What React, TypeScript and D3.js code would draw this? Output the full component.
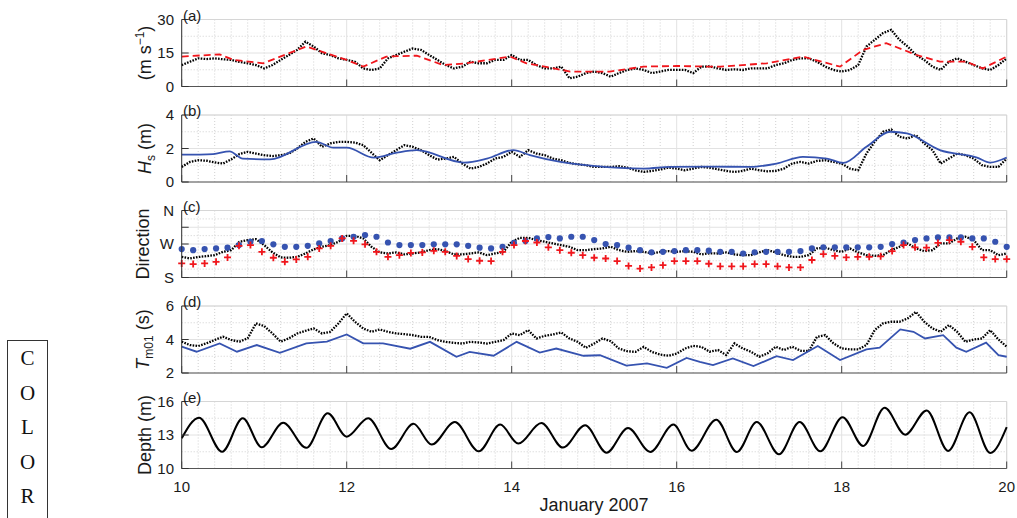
import React from 'react';
import * as d3 from 'd3';

// ---------- DATA ----------
const sampleDays = d3.range(101).map((i) => 10 + i / 10);

const windObs = [
  9.6, 11.1, 12.6, 12.3, 12.6, 12.2, 11.9, 11.0, 10.4, 9.6,
  8.1, 9.6, 11.9, 14.1, 16.4, 20.1, 17.9, 14.9, 14.1, 12.6,
  11.9, 11.1, 8.1, 7.4, 8.1, 12.6, 14.1, 15.6, 17.0, 16.4,
  14.1, 11.9, 9.6, 8.1, 8.9, 11.1, 10.4, 10.4, 11.9, 11.9,
  14.1, 11.9, 11.9, 9.6, 8.1, 8.1, 8.9, 3.7, 4.4, 6.0,
  6.7, 6.0, 4.4, 6.0, 7.4, 8.1, 7.4, 6.0, 6.7, 7.4,
  7.4, 7.4, 6.0, 8.9, 9.0, 8.1, 7.4, 7.7, 7.4, 8.1,
  8.1, 8.1, 9.6, 10.4, 11.9, 12.6, 12.6, 11.1, 8.9, 7.4,
  6.7, 7.4, 9.6, 17.9, 20.9, 23.9, 25.4, 20.9, 17.9, 14.1,
  11.9, 8.9, 7.4, 11.1, 12.6, 11.1, 9.6, 8.1, 7.4, 9.6,
  12.6,
];
const windModelDays = [10.0, 10.46, 10.63, 10.99, 11.51, 12.0, 12.2, 12.48, 12.85, 13.17, 13.45, 13.98, 14.18, 14.71, 15.19, 15.6, 16.0, 16.4, 16.53, 17.09, 17.53, 17.98, 18.26, 18.54, 18.91, 19.19, 19.51, 19.71, 20.0];
const windModelVals = [13.4, 14.4, 11.9, 10.4, 17.9, 11.9, 8.9, 13.4, 13.8, 9.6, 10.4, 13.4, 10.4, 6.7, 6.7, 8.9, 9.2, 8.9, 8.9, 10.4, 13.4, 8.9, 16.4, 19.4, 14.1, 11.1, 11.1, 8.1, 13.4];

const hsObs = [
  0.9, 1.2, 1.3, 1.27, 1.17, 1.1, 1.35, 1.67, 1.8, 1.7,
  1.6, 1.55, 1.6, 1.7, 2.0, 2.4, 2.6, 2.1, 2.3, 2.4,
  2.4, 2.35, 2.2, 1.75, 1.3, 1.6, 1.9, 2.2, 2.1, 1.9,
  1.6, 1.34, 1.4, 1.5, 1.1, 0.8, 0.9, 1.1, 1.4, 1.5,
  1.8, 1.5, 1.9, 1.7, 1.6, 1.4, 1.3, 1.14, 1.06, 1.0,
  0.9, 0.9, 0.9, 0.94, 0.86, 0.7, 0.6, 0.66, 0.74, 0.86,
  0.8, 0.7, 0.8, 0.9, 0.85, 0.76, 0.66, 0.6, 0.66, 0.8,
  0.7, 0.64, 0.66, 0.8, 1.1, 1.2, 1.1, 1.26, 1.3, 1.2,
  1.1, 0.8, 0.7, 1.7, 2.4, 3.0, 3.14, 2.7, 2.6, 2.8,
  2.3, 1.9, 1.1, 1.4, 1.7, 1.6, 1.4, 1.0, 0.9, 0.9,
  1.4,
];
const hsModelDays = [10.0, 10.38, 10.58, 10.74, 11.07, 11.63, 11.84, 12.0, 12.33, 12.61, 12.85, 13.42, 13.7, 14.02, 14.22, 14.59, 14.99, 15.6, 15.92, 16.4, 16.89, 17.21, 17.53, 17.82, 18.02, 18.3, 18.59, 18.79, 19.19, 19.64, 19.8, 20.0];
const hsModelVals = [1.63, 1.67, 1.83, 1.4, 1.35, 2.4, 2.05, 2.05, 1.45, 1.75, 1.9, 1.16, 1.4, 1.9, 1.6, 1.2, 0.96, 0.8, 0.9, 0.92, 0.9, 1.1, 1.5, 1.4, 1.14, 2.1, 3.0, 2.9, 1.9, 1.46, 1.16, 1.46];

const dirObs = [
  235.5, 231, 235, 237.5, 240, 249, 253.5, 276, 280.5, 283,
  267, 247.5, 234, 233, 235.5, 244.5, 255.5, 262.5, 267, 276,
  292, 292, 285, 262.5, 247.5, 244.5, 247.5, 242, 244.5, 247.5,
  253.5, 256.3, 251, 242, 242, 244.5, 247.5, 240, 244.5, 249,
  276, 286.7, 286.7, 280.5, 276, 271.5, 267, 262.5, 253.5, 253.5,
  256.3, 258, 262.5, 253.5, 249, 251, 249, 244.5, 249, 251,
  249, 251, 249, 242, 245, 244.5, 247.5, 242, 240, 240,
  247.5, 253.5, 247.5, 240, 235.5, 235.5, 240, 258, 260, 253.5,
  249, 258, 247.5, 240, 238.2, 240, 253.5, 262.5, 271.5, 258,
  251, 253.5, 271.5, 271.5, 285, 289.5, 280.5, 253.5, 253.5, 240,
  244.5,
];
const dirModelTimes = d3.range(73).map((i) => 10 + (i * 10) / 72);
const dirModelA = [
  256.3, 253.5, 256.3, 258, 260, 267, 276, 278, 269, 262.5,
  262.5, 265, 271.5, 278, 285, 289.5, 294, 289.5, 274, 267,
  267, 267, 269, 269, 269, 265, 260, 258, 262.5, 273,
  278, 285, 288.5, 285, 289.5, 289.5, 280.5, 270, 267, 260,
  253.5, 247.5, 249, 251, 253.5, 253.5, 252, 249, 249, 244.5,
  247.5, 249, 249, 249, 251, 258, 261, 261, 261, 261,
  261, 262.5, 270, 274, 280.5, 285, 287.7, 287.7, 287.7, 285,
  285, 276, 262.5,
];
const dirModelB = [
  217.7, 216, 217.7, 222, 234, 265, 267, 249, 233, 222,
  228.5, 235.5, 258, 265, 285, 278.5, 269, 249, 235.5, 240,
  246, 247.5, 251.7, 249, 238, 229.5, 225, 224, 249, 267,
  278, 274, 261, 253.5, 246.5, 240, 233, 231, 224, 211,
  204, 207, 213, 224, 224, 224, 217, 210, 210, 210,
  216, 216, 210, 207, 207, 227, 243, 238, 234, 235.5,
  235.5, 237, 251, 267, 261, 260, 273, 280.5, 276, 262.5,
  234, 229.5, 229.5,
];

const tmObs = [
  3.87, 3.67, 3.61, 3.77, 3.97, 4.17, 3.97, 3.87, 4.07, 4.96,
  4.8, 4.36, 3.87, 4.07, 4.36, 4.52, 4.66, 4.36, 4.46, 4.96,
  5.56, 5.06, 4.66, 4.46, 4.6, 4.46, 4.36, 4.32, 4.26, 4.16,
  4.16, 3.96, 3.86, 3.8, 3.76, 3.86, 3.82, 3.76, 3.86, 3.96,
  4.36, 4.26, 4.56, 4.06, 4.22, 4.3, 4.42, 4.06, 3.86, 3.5,
  3.76, 4.06, 3.9, 3.46, 3.3, 3.26, 3.56, 3.26, 3.1, 3.03,
  3.16, 3.46, 3.62, 3.56, 3.27, 3.37, 3.07, 3.77, 3.47, 3.27,
  2.97, 3.17, 3.57, 3.37, 3.57, 3.33, 3.31, 4.16, 4.26, 3.77,
  3.47, 3.41, 3.41, 3.67, 4.56, 4.96, 5.06, 5.06, 5.26, 5.65,
  5.06, 4.66, 4.46, 4.86, 4.46, 3.86, 4.0, 4.06, 4.56, 4.0,
  3.57,
];
const tmModelDays = [10.0, 10.18, 10.46, 10.67, 10.91, 11.19, 11.51, 11.76, 12.0, 12.2, 12.44, 12.77, 13.01, 13.33, 13.49, 13.78, 14.06, 14.34, 14.54, 14.87, 15.07, 15.39, 15.64, 15.88, 16.12, 16.28, 16.44, 16.68, 16.93, 17.21, 17.41, 17.71, 17.98, 18.3, 18.46, 18.71, 18.87, 19.01, 19.23, 19.39, 19.51, 19.75, 19.9, 20.0];
const tmModelVals = [3.57, 3.27, 3.77, 3.27, 3.67, 3.21, 3.77, 3.87, 4.3, 3.77, 3.77, 3.45, 3.86, 2.97, 3.26, 3.03, 3.86, 3.22, 3.46, 3.03, 3.06, 2.44, 2.57, 2.31, 2.9, 2.67, 2.47, 2.87, 2.41, 3.01, 2.77, 3.61, 2.77, 3.41, 3.51, 4.6, 4.46, 4.06, 4.26, 3.51, 3.27, 3.81, 3.07, 2.97];

const depthDays = [10.0, 10.21, 10.49, 10.74, 10.97, 11.23, 11.51, 11.77, 12.0, 12.26, 12.54, 12.81, 13.03, 13.31, 13.6, 13.86, 14.08, 14.36, 14.62, 14.89, 15.15, 15.41, 15.68, 15.96, 16.18, 16.48, 16.73, 16.97, 17.24, 17.49, 17.74, 18.01, 18.26, 18.52, 18.77, 19.03, 19.29, 19.55, 19.8, 20.0];
const depthVals = [12.7, 14.55, 11.5, 14.5, 11.9, 14.1, 11.85, 14.95, 12.85, 14.5, 11.75, 14.0, 12.14, 14.16, 11.54, 13.93, 12.23, 14.07, 11.87, 13.87, 11.42, 13.63, 11.48, 13.93, 11.6, 14.37, 11.48, 14.16, 11.28, 14.16, 11.54, 14.6, 12.02, 15.44, 13.03, 15.2, 11.57, 15.03, 11.39, 13.71];

const xTicks = [10, 12, 14, 16, 18, 20];
const xMinor = d3.range(51).map((i) => 10 + i * 0.2).filter((_, i) => i % 10 !== 0);

// ---------- LAYOUT ----------
const X0 = 181.7;
const X1 = 1006.7;
const PH = 67;
const tops = [19.5, 115, 210.5, 306, 401.5];
const FONT = "'Liberation Sans', Arial, Helvetica, sans-serif";
const BLUE = '#3653b0';
const RED = '#f0161c';
const x = d3.scaleLinear().domain([10, 20]).range([X0, X1]);

type PanelSpec = {
  letter: string;
  domain: [number, number];
  ticks: number[];
  tickLabels: string[];
  minors: number[];
  labelX: number;
};

const panels: PanelSpec[] = [
  { letter: '(a)', domain: [0, 30], ticks: [0, 15, 30], tickLabels: ['0', '15', '30'], minors: [7.5, 22.5], labelX: 151 },
  { letter: '(b)', domain: [0, 4], ticks: [0, 2, 4], tickLabels: ['0', '2', '4'], minors: [1, 3], labelX: 151 },
  { letter: '(c)', domain: [180, 360], ticks: [180, 270, 315, 360], tickLabels: ['S', 'W', '', 'N'], minors: [202.5, 225, 247.5, 292.5, 337.5], labelX: 149 },
  { letter: '(d)', domain: [2, 6], ticks: [2, 4, 6], tickLabels: ['2', '4', '6'], minors: [3, 5], labelX: 149 },
  { letter: '(e)', domain: [10, 16], ticks: [10, 13, 16], tickLabels: ['10', '13', '16'], minors: [11.5, 14.5], labelX: 151 },
];

function yScale(i: number) {
  const p = panels[i];
  return d3.scaleLinear().domain(p.domain).range([tops[i] + PH, tops[i]]);
}

function YLabel({ i }: { i: number }) {
  const cy = tops[i] + PH / 2;
  const lx = panels[i].labelX;
  const common = {
    transform: `translate(${lx},${cy}) rotate(-90)`,
    textAnchor: 'middle' as const,
    fontFamily: FONT,
    fontSize: 18,
    fill: '#1a1a1a',
  };
  if (i === 0)
    return (
      <text {...common}>
        (m s<tspan fontSize={12} dy={-7}>−1</tspan>
        <tspan dy={7}>)</tspan>
      </text>
    );
  if (i === 1)
    return (
      <text {...common}>
        <tspan fontStyle="italic">H</tspan>
        <tspan fontSize={12} dy={4}>s</tspan>
        <tspan dy={-4}> (m)</tspan>
      </text>
    );
  if (i === 2) return <text {...common}>Direction</text>;
  if (i === 3)
    return (
      <text {...common}>
        <tspan fontStyle="italic">T</tspan>
        <tspan fontSize={12} dy={4}>m01</tspan>
        <tspan dy={-4}> (s)</tspan>
      </text>
    );
  return <text {...common}>Depth (m)</text>;
}

function Frame({ i }: { i: number }) {
  const y = yScale(i);
  const top = tops[i];
  const bot = top + PH;
  const p = panels[i];
  return (
    <g>
      {xMinor.map((d) => (
        <line key={'xm' + d} x1={x(d)} x2={x(d)} y1={top} y2={bot} stroke="#c4c4c4" strokeWidth={0.8} strokeDasharray="1,2" />
      ))}
      {p.minors.map((v) => (
        <line key={'ym' + v} x1={X0} x2={X1} y1={y(v)} y2={y(v)} stroke="#c4c4c4" strokeWidth={0.8} strokeDasharray="1,2" />
      ))}
      {xTicks.map((d) => (
        <line key={'xg' + d} x1={x(d)} x2={x(d)} y1={top} y2={bot} stroke="#e2e2e2" strokeWidth={1} />
      ))}
      {p.ticks.map((v) => (
        <line key={'yg' + v} x1={X0} x2={X1} y1={y(v)} y2={y(v)} stroke="#e2e2e2" strokeWidth={1} />
      ))}
      <line x1={X0} x2={X1} y1={top} y2={top} stroke="#d6d6d6" strokeWidth={1} />
      <line x1={X1} x2={X1} y1={top} y2={bot} stroke="#d6d6d6" strokeWidth={1} />
    </g>
  );
}

function Axes({ i }: { i: number }) {
  const y = yScale(i);
  const top = tops[i];
  const bot = top + PH;
  const p = panels[i];
  return (
    <g>
      <line x1={X0} x2={X0} y1={top} y2={bot} stroke="#333" strokeWidth={1} />
      <line x1={X0} x2={X1} y1={bot} y2={bot} stroke="#555" strokeWidth={1} />
      {xTicks.map((d) => (
        <line key={'xt' + d} x1={x(d)} x2={x(d)} y1={bot} y2={bot - 7} stroke="#444" strokeWidth={1} />
      ))}
      {p.ticks.map((v) => (
        <line key={'yt' + v} x1={X0} x2={X0 + 7} y1={y(v)} y2={y(v)} stroke="#333" strokeWidth={1} />
      ))}
      {p.ticks.map((v, k) => (
        <text key={'yl' + v} x={174} y={y(v)} dy="0.35em" textAnchor="end" fontFamily={FONT} fontSize={15} fill="#1a1a1a">
          {p.tickLabels[k]}
        </text>
      ))}
      <text x={183} y={top + 1} fontFamily={FONT} fontSize={15} fill="#1a1a1a">
        {p.letter}
      </text>
      <YLabel i={i} />
    </g>
  );
}

function obsPath(vals: number[], i: number) {
  const y = yScale(i);
  return d3
    .line<number>()
    .x((_, k) => x(sampleDays[k]))
    .y((v) => y(v))(vals) as string;
}

function modelPath(days: number[], vals: number[], i: number, curve: d3.CurveFactory) {
  const y = yScale(i);
  return d3
    .line<number>()
    .x((_, k) => x(days[k]))
    .y((v) => y(v))
    .curve(curve)(vals) as string;
}

const obsStyle = { fill: 'none', stroke: '#000', strokeWidth: 2.3, strokeDasharray: '1.6,1.3' };

export default function App() {
  const yC = yScale(2);
  return (
    <svg width={1017} height={518} style={{ position: 'absolute', left: 0, top: 0, background: '#fff' }}>
      <rect x={0} y={0} width={1017} height={518} fill="#fff" />
      {panels.map((_, i) => (
        <Frame key={'f' + i} i={i} />
      ))}

      {/* (a) wind */}
      <path d={obsPath(windObs, 0)} {...obsStyle} />
      <path d={modelPath(windModelDays, windModelVals, 0, d3.curveLinear)} fill="none" stroke={RED} strokeWidth={1.8} strokeDasharray="7,4" />

      {/* (b) Hs */}
      <path d={obsPath(hsObs, 1)} {...obsStyle} />
      <path d={modelPath(hsModelDays, hsModelVals, 1, d3.curveMonotoneX)} fill="none" stroke={BLUE} strokeWidth={1.8} />

      {/* (c) direction */}
      <path d={obsPath(dirObs, 2)} {...obsStyle} />
      {dirModelTimes.map((t, k) => (
        <circle key={'bc' + k} cx={x(t)} cy={yC(dirModelA[k])} r={3.1} fill={BLUE} />
      ))}
      {dirModelTimes.map((t, k) => (
        <path
          key={'rc' + k}
          d={`M${x(t) - 3.5},${yC(dirModelB[k])}h7M${x(t)},${yC(dirModelB[k]) - 3.5}v7`}
          stroke={RED}
          strokeWidth={1.8}
          fill="none"
        />
      ))}

      {/* (d) Tm01 */}
      <path d={obsPath(tmObs, 3)} {...obsStyle} />
      <path d={modelPath(tmModelDays, tmModelVals, 3, d3.curveLinear)} fill="none" stroke={BLUE} strokeWidth={1.8} />

      {/* (e) depth */}
      <path d={modelPath(depthDays, depthVals, 4, d3.curveMonotoneX)} fill="none" stroke="#000" strokeWidth={2} />

      {panels.map((_, i) => (
        <Axes key={'a' + i} i={i} />
      ))}

      {xTicks.map((d) => (
        <text key={'xl' + d} x={x(d)} y={491.5} textAnchor="middle" fontFamily={FONT} fontSize={15} fill="#1a1a1a">
          {d}
        </text>
      ))}
      <text x={594} y={511} textAnchor="middle" fontFamily={FONT} fontSize={18} fill="#1a1a1a">
        January 2007
      </text>

      {/* COLOR box */}
      <rect x={7.5} y={340.5} width={40} height={200} fill="none" stroke="#333" strokeWidth={1} />
      {['C', 'O', 'L', 'O', 'R'].map((c, k) => (
        <text key={'c' + k} x={27.5} y={365 + k * 34.5} textAnchor="middle" fontFamily="'Liberation Serif', 'Times New Roman', serif" fontSize={21} fill="#111">
          {c}
        </text>
      ))}
    </svg>
  );
}
